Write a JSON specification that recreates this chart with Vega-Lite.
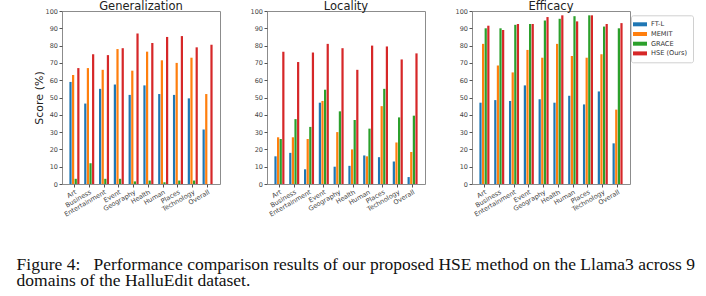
{
  "$schema": "https://vega.github.io/schema/vega-lite/v6.json",
  "padding": {"left": 16, "top": 0, "right": 0, "bottom": 0},
  "background": "white",
  "config": {
    "font": "DejaVu Sans",
    "view": {"stroke": "#8c8c8c", "strokeWidth": 1},
    "concat": {"spacing": 47},
    "axis": {"grid": false, "domain": false, "tickColor": "#555", "tickSize": 3, "labelColor": "#444", "labelFontSize": 6.5, "labelPadding": 1.5},
    "title": {"fontSize": 11.5, "fontWeight": "normal", "color": "#222", "offset": -4}
  },
  "bounds": "flush",
  "resolve": {"legend": {"color": "independent"}},
  "title": {
    "text": ["Figure 4:\u00a0\u00a0 Performance comparison results of our proposed HSE method on the Llama3 across 9", "domains of the HalluEdit dataset."],
    "orient": "bottom",
    "anchor": "start",
    "frame": "bounds",
    "font": "Liberation Serif",
    "fontSize": 17.5,
    "fontWeight": "normal",
    "color": "#111",
    "lineHeight": 16,
    "offset": 38,
    "dx": -16
  },
  "data": {
    "values": [
      {"metric": "Generalization", "domain": "Art", "method": "FT-L", "score": 59},
      {"metric": "Generalization", "domain": "Art", "method": "MEMIT", "score": 63},
      {"metric": "Generalization", "domain": "Art", "method": "GRACE", "score": 3},
      {"metric": "Generalization", "domain": "Art", "method": "HSE (Ours)", "score": 67},
      {"metric": "Generalization", "domain": "Business", "method": "FT-L", "score": 46.5},
      {"metric": "Generalization", "domain": "Business", "method": "MEMIT", "score": 67},
      {"metric": "Generalization", "domain": "Business", "method": "GRACE", "score": 12},
      {"metric": "Generalization", "domain": "Business", "method": "HSE (Ours)", "score": 75},
      {"metric": "Generalization", "domain": "Entertainment", "method": "FT-L", "score": 55},
      {"metric": "Generalization", "domain": "Entertainment", "method": "MEMIT", "score": 66},
      {"metric": "Generalization", "domain": "Entertainment", "method": "GRACE", "score": 3},
      {"metric": "Generalization", "domain": "Entertainment", "method": "HSE (Ours)", "score": 74.5},
      {"metric": "Generalization", "domain": "Event", "method": "FT-L", "score": 57.5},
      {"metric": "Generalization", "domain": "Event", "method": "MEMIT", "score": 78},
      {"metric": "Generalization", "domain": "Event", "method": "GRACE", "score": 3},
      {"metric": "Generalization", "domain": "Event", "method": "HSE (Ours)", "score": 78.5},
      {"metric": "Generalization", "domain": "Geography", "method": "FT-L", "score": 51.5},
      {"metric": "Generalization", "domain": "Geography", "method": "MEMIT", "score": 65.5},
      {"metric": "Generalization", "domain": "Geography", "method": "GRACE", "score": 1.5},
      {"metric": "Generalization", "domain": "Geography", "method": "HSE (Ours)", "score": 87},
      {"metric": "Generalization", "domain": "Health", "method": "FT-L", "score": 57},
      {"metric": "Generalization", "domain": "Health", "method": "MEMIT", "score": 76.5},
      {"metric": "Generalization", "domain": "Health", "method": "GRACE", "score": 2},
      {"metric": "Generalization", "domain": "Health", "method": "HSE (Ours)", "score": 81.5},
      {"metric": "Generalization", "domain": "Human", "method": "FT-L", "score": 52},
      {"metric": "Generalization", "domain": "Human", "method": "MEMIT", "score": 71.5},
      {"metric": "Generalization", "domain": "Human", "method": "GRACE", "score": 1},
      {"metric": "Generalization", "domain": "Human", "method": "HSE (Ours)", "score": 85},
      {"metric": "Generalization", "domain": "Places", "method": "FT-L", "score": 51.5},
      {"metric": "Generalization", "domain": "Places", "method": "MEMIT", "score": 70},
      {"metric": "Generalization", "domain": "Places", "method": "GRACE", "score": 2},
      {"metric": "Generalization", "domain": "Places", "method": "HSE (Ours)", "score": 85.5},
      {"metric": "Generalization", "domain": "Technology", "method": "FT-L", "score": 49.5},
      {"metric": "Generalization", "domain": "Technology", "method": "MEMIT", "score": 73},
      {"metric": "Generalization", "domain": "Technology", "method": "GRACE", "score": 2},
      {"metric": "Generalization", "domain": "Technology", "method": "HSE (Ours)", "score": 79},
      {"metric": "Generalization", "domain": "Overall", "method": "FT-L", "score": 31.5},
      {"metric": "Generalization", "domain": "Overall", "method": "MEMIT", "score": 52},
      {"metric": "Generalization", "domain": "Overall", "method": "GRACE", "score": 0},
      {"metric": "Generalization", "domain": "Overall", "method": "HSE (Ours)", "score": 80.5},
      {"metric": "Locality", "domain": "Art", "method": "FT-L", "score": 16},
      {"metric": "Locality", "domain": "Art", "method": "MEMIT", "score": 27},
      {"metric": "Locality", "domain": "Art", "method": "GRACE", "score": 26},
      {"metric": "Locality", "domain": "Art", "method": "HSE (Ours)", "score": 76.5},
      {"metric": "Locality", "domain": "Business", "method": "FT-L", "score": 18},
      {"metric": "Locality", "domain": "Business", "method": "MEMIT", "score": 27},
      {"metric": "Locality", "domain": "Business", "method": "GRACE", "score": 37.5},
      {"metric": "Locality", "domain": "Business", "method": "HSE (Ours)", "score": 70.5},
      {"metric": "Locality", "domain": "Entertainment", "method": "FT-L", "score": 8.5},
      {"metric": "Locality", "domain": "Entertainment", "method": "MEMIT", "score": 26},
      {"metric": "Locality", "domain": "Entertainment", "method": "GRACE", "score": 33},
      {"metric": "Locality", "domain": "Entertainment", "method": "HSE (Ours)", "score": 76},
      {"metric": "Locality", "domain": "Event", "method": "FT-L", "score": 47},
      {"metric": "Locality", "domain": "Event", "method": "MEMIT", "score": 48},
      {"metric": "Locality", "domain": "Event", "method": "GRACE", "score": 54.5},
      {"metric": "Locality", "domain": "Event", "method": "HSE (Ours)", "score": 81},
      {"metric": "Locality", "domain": "Geography", "method": "FT-L", "score": 10},
      {"metric": "Locality", "domain": "Geography", "method": "MEMIT", "score": 30},
      {"metric": "Locality", "domain": "Geography", "method": "GRACE", "score": 42},
      {"metric": "Locality", "domain": "Geography", "method": "HSE (Ours)", "score": 78.5},
      {"metric": "Locality", "domain": "Health", "method": "FT-L", "score": 10.5},
      {"metric": "Locality", "domain": "Health", "method": "MEMIT", "score": 20},
      {"metric": "Locality", "domain": "Health", "method": "GRACE", "score": 37},
      {"metric": "Locality", "domain": "Health", "method": "HSE (Ours)", "score": 66},
      {"metric": "Locality", "domain": "Human", "method": "FT-L", "score": 16.5},
      {"metric": "Locality", "domain": "Human", "method": "MEMIT", "score": 16},
      {"metric": "Locality", "domain": "Human", "method": "GRACE", "score": 32},
      {"metric": "Locality", "domain": "Human", "method": "HSE (Ours)", "score": 80},
      {"metric": "Locality", "domain": "Places", "method": "FT-L", "score": 15.5},
      {"metric": "Locality", "domain": "Places", "method": "MEMIT", "score": 45},
      {"metric": "Locality", "domain": "Places", "method": "GRACE", "score": 55},
      {"metric": "Locality", "domain": "Places", "method": "HSE (Ours)", "score": 79.5},
      {"metric": "Locality", "domain": "Technology", "method": "FT-L", "score": 13},
      {"metric": "Locality", "domain": "Technology", "method": "MEMIT", "score": 24},
      {"metric": "Locality", "domain": "Technology", "method": "GRACE", "score": 38.5},
      {"metric": "Locality", "domain": "Technology", "method": "HSE (Ours)", "score": 72},
      {"metric": "Locality", "domain": "Overall", "method": "FT-L", "score": 4},
      {"metric": "Locality", "domain": "Overall", "method": "MEMIT", "score": 18.5},
      {"metric": "Locality", "domain": "Overall", "method": "GRACE", "score": 39.5},
      {"metric": "Locality", "domain": "Overall", "method": "HSE (Ours)", "score": 75.5},
      {"metric": "Efficacy", "domain": "Art", "method": "FT-L", "score": 47},
      {"metric": "Efficacy", "domain": "Art", "method": "MEMIT", "score": 81},
      {"metric": "Efficacy", "domain": "Art", "method": "GRACE", "score": 90},
      {"metric": "Efficacy", "domain": "Art", "method": "HSE (Ours)", "score": 91.5},
      {"metric": "Efficacy", "domain": "Business", "method": "FT-L", "score": 48.5},
      {"metric": "Efficacy", "domain": "Business", "method": "MEMIT", "score": 68.5},
      {"metric": "Efficacy", "domain": "Business", "method": "GRACE", "score": 90},
      {"metric": "Efficacy", "domain": "Business", "method": "HSE (Ours)", "score": 89},
      {"metric": "Efficacy", "domain": "Entertainment", "method": "FT-L", "score": 48},
      {"metric": "Efficacy", "domain": "Entertainment", "method": "MEMIT", "score": 64.5},
      {"metric": "Efficacy", "domain": "Entertainment", "method": "GRACE", "score": 92},
      {"metric": "Efficacy", "domain": "Entertainment", "method": "HSE (Ours)", "score": 92.5},
      {"metric": "Efficacy", "domain": "Event", "method": "FT-L", "score": 57},
      {"metric": "Efficacy", "domain": "Event", "method": "MEMIT", "score": 77.5},
      {"metric": "Efficacy", "domain": "Event", "method": "GRACE", "score": 92.5},
      {"metric": "Efficacy", "domain": "Event", "method": "HSE (Ours)", "score": 92.5},
      {"metric": "Efficacy", "domain": "Geography", "method": "FT-L", "score": 49},
      {"metric": "Efficacy", "domain": "Geography", "method": "MEMIT", "score": 73},
      {"metric": "Efficacy", "domain": "Geography", "method": "GRACE", "score": 94.5},
      {"metric": "Efficacy", "domain": "Geography", "method": "HSE (Ours)", "score": 96.5},
      {"metric": "Efficacy", "domain": "Health", "method": "FT-L", "score": 47},
      {"metric": "Efficacy", "domain": "Health", "method": "MEMIT", "score": 81},
      {"metric": "Efficacy", "domain": "Health", "method": "GRACE", "score": 95.5},
      {"metric": "Efficacy", "domain": "Health", "method": "HSE (Ours)", "score": 97.5},
      {"metric": "Efficacy", "domain": "Human", "method": "FT-L", "score": 51},
      {"metric": "Efficacy", "domain": "Human", "method": "MEMIT", "score": 74},
      {"metric": "Efficacy", "domain": "Human", "method": "GRACE", "score": 97},
      {"metric": "Efficacy", "domain": "Human", "method": "HSE (Ours)", "score": 94},
      {"metric": "Efficacy", "domain": "Places", "method": "FT-L", "score": 46},
      {"metric": "Efficacy", "domain": "Places", "method": "MEMIT", "score": 73},
      {"metric": "Efficacy", "domain": "Places", "method": "GRACE", "score": 97.5},
      {"metric": "Efficacy", "domain": "Places", "method": "HSE (Ours)", "score": 97.5},
      {"metric": "Efficacy", "domain": "Technology", "method": "FT-L", "score": 53.5},
      {"metric": "Efficacy", "domain": "Technology", "method": "MEMIT", "score": 75},
      {"metric": "Efficacy", "domain": "Technology", "method": "GRACE", "score": 91},
      {"metric": "Efficacy", "domain": "Technology", "method": "HSE (Ours)", "score": 92.5},
      {"metric": "Efficacy", "domain": "Overall", "method": "FT-L", "score": 23.5},
      {"metric": "Efficacy", "domain": "Overall", "method": "MEMIT", "score": 43},
      {"metric": "Efficacy", "domain": "Overall", "method": "GRACE", "score": 90},
      {"metric": "Efficacy", "domain": "Overall", "method": "HSE (Ours)", "score": 93}
    ]
  },
  "hconcat": [
    {
      "title": "Generalization",
      "width": 158, "height": 173,
      "transform": [{"filter": "datum.metric === 'Generalization'"}],
      "mark": {"type": "bar"},
      "encoding": {
        "x": {"field": "domain", "type": "nominal", "sort": ["Art","Business","Entertainment","Event","Geography","Health","Human","Places","Technology","Overall"], "scale": {"paddingInner": 0.32, "paddingOuter": 0.5}, "axis": {"title": null, "labelAngle": -30}},
        "xOffset": {"field": "method", "type": "nominal", "sort": ["FT-L","MEMIT","GRACE","HSE (Ours)"], "scale": {"paddingInner": 0.15}},
        "y": {"field": "score", "type": "quantitative", "scale": {"domain": [0, 100]}, "axis": {"title": "Score (%)", "titleFontSize": 11, "titleFontWeight": "normal", "titleColor": "#222", "values": [0,10,20,30,40,50,60,70,80,90,100], "titlePadding": 1}},
        "color": {"field": "method", "type": "nominal", "sort": ["FT-L","MEMIT","GRACE","HSE (Ours)"], "scale": {"domain": ["FT-L","MEMIT","GRACE","HSE (Ours)"], "range": ["#1f77b4","#ff7f0e","#2ca02c","#d62728"]}, "legend": null}
      }
    },
    {
      "title": "Locality",
      "width": 158, "height": 173,
      "transform": [{"filter": "datum.metric === 'Locality'"}],
      "mark": {"type": "bar"},
      "encoding": {
        "x": {"field": "domain", "type": "nominal", "sort": ["Art","Business","Entertainment","Event","Geography","Health","Human","Places","Technology","Overall"], "scale": {"paddingInner": 0.32, "paddingOuter": 0.5}, "axis": {"title": null, "labelAngle": -30}},
        "xOffset": {"field": "method", "type": "nominal", "sort": ["FT-L","MEMIT","GRACE","HSE (Ours)"], "scale": {"paddingInner": 0.15}},
        "y": {"field": "score", "type": "quantitative", "scale": {"domain": [0, 100]}, "axis": {"title": null, "values": [0,10,20,30,40,50,60,70,80,90,100]}},
        "color": {"field": "method", "type": "nominal", "sort": ["FT-L","MEMIT","GRACE","HSE (Ours)"], "legend": null}
      }
    },
    {
      "title": "Efficacy",
      "width": 158, "height": 173,
      "transform": [{"filter": "datum.metric === 'Efficacy'"}],
      "mark": {"type": "bar"},
      "encoding": {
        "x": {"field": "domain", "type": "nominal", "sort": ["Art","Business","Entertainment","Event","Geography","Health","Human","Places","Technology","Overall"], "scale": {"paddingInner": 0.32, "paddingOuter": 0.5}, "axis": {"title": null, "labelAngle": -30}},
        "xOffset": {"field": "method", "type": "nominal", "sort": ["FT-L","MEMIT","GRACE","HSE (Ours)"], "scale": {"paddingInner": 0.15}},
        "y": {"field": "score", "type": "quantitative", "scale": {"domain": [0, 100]}, "axis": {"title": null, "values": [0,10,20,30,40,50,60,70,80,90,100]}},
        "color": {"field": "method", "type": "nominal", "sort": ["FT-L","MEMIT","GRACE","HSE (Ours)"],
          "legend": {"title": null, "orient": "none", "legendX": 159, "legendY": 4.3, "strokeColor": "#d0d0d0", "fillColor": "white", "cornerRadius": 2, "padding": 5, "labelFontSize": 6.6, "labelColor": "#333", "symbolType": "M-1.75,-0.5H1.75V0.5H-1.75Z", "symbolSize": 64, "symbolStrokeWidth": 0, "rowPadding": 1.7, "labelOffset": 7}}
      }
    }
  ]
}
